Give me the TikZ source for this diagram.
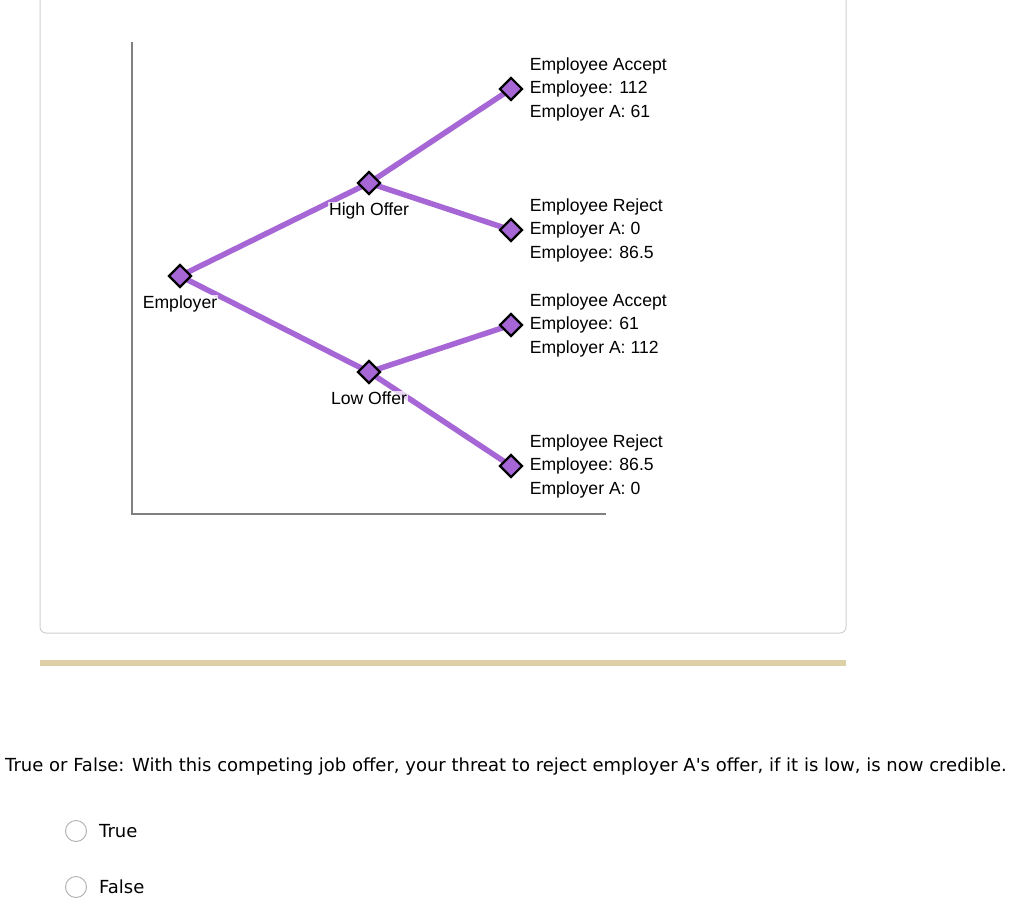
\documentclass[tikz,border=0pt]{standalone}
\usepackage{fontspec}
\setmainfont{Liberation Sans}
\newfontfamily\quizfont{DejaVu Sans}
\usetikzlibrary{shapes.geometric,positioning,backgrounds}
\definecolor{cPurple}{RGB}{167,102,214}
\definecolor{cAxis}{RGB}{128,128,128}
\definecolor{cCard}{RGB}{208,208,208}
\definecolor{cTan}{RGB}{221,207,166}
\definecolor{cRadio}{RGB}{175,175,175}
\tikzset{
  treenode/.style={diamond,draw=black,line width=2.2pt,fill=cPurple,
                   aspect=1,minimum size=23pt,inner sep=0pt},
  movelabel/.style={font=\fontsize{17.6}{19}\selectfont,fill=white,
                    fill opacity=0.75,text opacity=1,inner sep=1pt},
  payoff/.style={align=left,inner sep=0pt,
                 font=\fontsize{17.6}{23.5}\selectfont},
  branch/.style={line width=5.5pt,color=cPurple},
  axisline/.style={line width=1.5pt,color=cAxis},
  radio/.style={circle,draw=cRadio,line width=0.9pt,minimum size=21pt,
                inner sep=0pt},
  quiztext/.style={font=\quizfont\fontsize{18}{21}\selectfont,
                   inner sep=0pt}
}
\begin{document}
\begin{tikzpicture}[x=1pt,y=-1pt]
  \useasboundingbox (0,0) rectangle (1024,909);
  \draw[cCard,line width=1pt,rounded corners=6pt] (40,-10) rectangle (846,633);
  \fill[cTan] (40,660) rectangle (846,666);

  \coordinate (top) at (132,42);
  \coordinate (orig) at (132,514);
  \coordinate (xend) at (606,514);
  \draw[axisline] (top)--(orig)--(xend);

  \node[treenode] (emp) at (180,276) {};
  \node[treenode] (high) at (369,183) {};
  \node[treenode] (low) at (369,372) {};
  \node[treenode] (ha) at (511,89) {};
  \node[treenode] (hr) at (511,230) {};
  \node[treenode] (la) at (511,325) {};
  \node[treenode] (lr) at (511,466) {};

  \begin{scope}[on background layer]
    \draw[branch] (emp.center)--(high.center);
    \draw[branch] (emp.center)--(low.center);
    \draw[branch] (high.center)--(ha.center);
    \draw[branch] (high.center)--(hr.center);
    \draw[branch] (low.center)--(la.center);
    \draw[branch] (low.center)--(lr.center);
  \end{scope}

  \node[movelabel,below=6pt of emp] (empl) {Employer};
  \node[movelabel,below=6pt of high] (highl) {High Offer};
  \node[movelabel,below=6pt of low] (lowl) {Low Offer};

  \node[payoff,right=6pt of ha] (hat)
      {Employee Accept\\Employee: 112\\Employer A: 61};
  \node[payoff,right=6pt of hr] (hrt)
      {Employee Reject\\Employer A: 0\\Employee: 86.5};
  \node[payoff,right=6pt of la] (lat)
      {Employee Accept\\Employee: 61\\Employer A: 112};
  \node[payoff,right=6pt of lr] (lrt)
      {Employee Reject\\Employee: 86.5\\Employer A: 0};

  \node[quiztext,anchor=west] (quest) at (5,767)
      {True or False: With this competing job offer, your threat to reject employer A's offer, if it is low, is now credible.};
  \node[radio] (rtrue) at (76,831) {};
  \node[radio] (rfalse) at (76,887) {};
  \node[quiztext,right=12pt of rtrue] (ttrue) {True};
  \node[quiztext,right=12pt of rfalse] (tfalse) {False};
\end{tikzpicture}
\end{document}
